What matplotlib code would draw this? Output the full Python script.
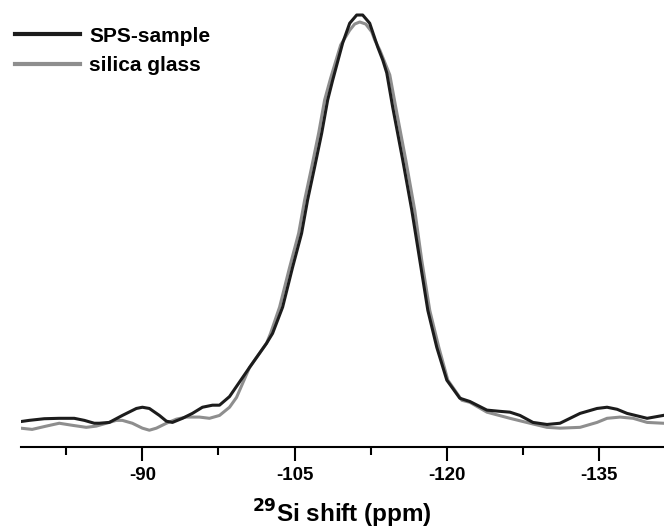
import numpy as np
import matplotlib.pyplot as plt
from matplotlib.ticker import MultipleLocator

plt.rcParams['font.family'] = ['Liberation Sans', 'DejaVu Sans']
plt.rcParams['axes.unicode_minus'] = False

# chemical shift (ppm) and normalised intensity
sps_ppm = [-78.0, -78.85, -80.33, -81.81, -83.29, -84.28, -85.26, -85.76, -86.74, -88.03,
           -89.41, -90.0, -90.69, -91.68, -92.37, -92.96, -93.95, -94.93, -95.92, -96.91,
           -97.6, -98.59, -100.56, -102.24, -102.83, -103.82, -104.8, -105.69, -106.28, -106.97,
           -107.67, -108.26, -108.75, -109.74, -110.43, -111.12, -111.71, -112.4, -113.19, -113.69,
           -114.08, -114.67, -115.66, -116.55, -117.34, -118.13, -119.01, -120.0, -121.28, -122.27,
           -123.95, -125.23, -126.22, -127.21, -128.49, -129.87, -131.15, -133.13, -134.8, -135.79,
           -136.78, -137.76, -139.74, -141.32]
sps_int = [0.009, 0.012, 0.016, 0.017, 0.017, 0.012, 0.005, 0.005, 0.007, 0.024,
           0.041, 0.044, 0.041, 0.024, 0.010, 0.007, 0.017, 0.029, 0.044, 0.049,
           0.049, 0.070, 0.141, 0.200, 0.224, 0.288, 0.385, 0.468, 0.549, 0.629,
           0.712, 0.793, 0.841, 0.932, 0.980, 1.000, 1.000, 0.980, 0.922, 0.890,
           0.859, 0.775, 0.646, 0.524, 0.402, 0.280, 0.190, 0.110, 0.066, 0.058,
           0.037, 0.034, 0.032, 0.024, 0.007, 0.002, 0.005, 0.029, 0.041, 0.044,
           0.039, 0.029, 0.017, 0.024]

glass_ppm = [-78.0, -79.14, -80.53, -81.81, -83.09, -84.47, -85.46, -86.45, -87.43, -88.03,
             -89.01, -90.0, -90.69, -91.38, -92.37, -93.36, -94.34, -95.63, -96.61, -97.6,
             -98.59, -99.28, -100.56, -102.24, -102.63, -103.52, -104.51, -105.4, -105.99, -106.68,
             -107.37, -107.96, -108.55, -109.54, -110.43, -110.92, -111.42, -112.01, -112.6, -112.9,
             -113.39, -113.88, -114.38, -114.97, -115.96, -116.84, -117.53, -118.32, -119.21, -120.1,
             -121.48, -122.27, -123.95, -126.22, -128.19, -129.87, -131.15, -133.13, -134.8, -135.79,
             -137.07, -138.36, -139.74, -141.32]
glass_int = [-0.007, -0.010, -0.002, 0.005, 0.000, -0.005, -0.002, 0.005, 0.012, 0.012,
             0.005, -0.007, -0.012, -0.007, 0.005, 0.015, 0.020, 0.020, 0.017, 0.024,
             0.044, 0.068, 0.141, 0.200, 0.224, 0.288, 0.385, 0.468, 0.549, 0.629,
             0.712, 0.793, 0.846, 0.927, 0.963, 0.978, 0.983, 0.978, 0.959, 0.939,
             0.915, 0.885, 0.854, 0.775, 0.646, 0.524, 0.402, 0.280, 0.190, 0.110,
             0.061, 0.056, 0.032, 0.017, 0.005, -0.005, -0.007, -0.005, 0.007, 0.017,
             0.020, 0.017, 0.007, 0.005]

fig = plt.figure(figsize=(6.64, 5.30), dpi=100)
ax = fig.add_axes([0.031, 0.156, 0.969, 0.844])

ax.plot(sps_ppm, sps_int, color='#1c1c1c', lw=2.2, label='SPS-sample',
        solid_joinstyle='round', zorder=3)
ax.plot(glass_ppm, glass_int, color='#8e8e8e', lw=2.2, label='silica glass',
        solid_joinstyle='round', zorder=2)

ax.set_xlim(-78.0, -141.4)
ax.set_ylim(-0.0537, 1.0366)

for s in ['left', 'right', 'top']:
    ax.spines[s].set_visible(False)
ax.spines['bottom'].set_linewidth(1.5)
ax.set_yticks([])

ax.xaxis.set_major_locator(MultipleLocator(15))
ax.xaxis.set_minor_locator(MultipleLocator(7.5))
ax.tick_params(axis='x', which='major', length=10, width=1.5, pad=4,
               labelsize=13.5)
ax.tick_params(axis='x', which='minor', length=6, width=1.5)
for lab in ax.get_xticklabels():
    lab.set_fontweight('bold')

ax.set_xlabel('$^{\\mathbf{29}}$Si shift (ppm)', fontsize=17.5, fontweight='bold',
              labelpad=10)

leg = ax.legend(loc='upper left', bbox_to_anchor=(-0.031, 0.973), frameon=False,
                handlelength=3.1, handletextpad=0.45, labelspacing=0.5,
                borderaxespad=0.3, prop={'weight': 'bold', 'size': 15})
for h in leg.get_lines():
    h.set_linewidth(3)

fig.savefig('out.png', dpi=100)
